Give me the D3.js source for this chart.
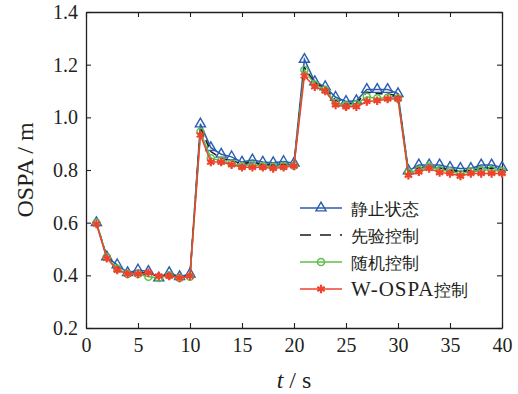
<!DOCTYPE html>
<html><head><meta charset="utf-8">
<script src="https://cdn.jsdelivr.net/npm/d3@7"></script>
<style>html,body{margin:0;padding:0;background:#fff;}svg{display:block;}</style>
</head><body>
<svg id="c" width="518" height="394"></svg>
<script>
const times = d3.range(1, 41);
const staticVals = [0.60,0.47,0.44,0.41,0.42,0.415,0.39,0.41,0.395,0.405, 0.975,0.885,0.86,0.85,0.83,0.838,0.83,0.828,0.832,0.826, 1.22,1.135,1.116,1.076,1.06,1.063,1.106,1.106,1.106,1.09, 0.797,0.819,0.819,0.819,0.81,0.806,0.806,0.819,0.819,0.81];
const priorVals = [0.60,0.47,0.43,0.41,0.41,0.41,0.395,0.405,0.39,0.40, 0.96,0.87,0.845,0.835,0.825,0.828,0.822,0.82,0.822,0.82, 1.19,1.13,1.11,1.065,1.05,1.055,1.095,1.09,1.09,1.08, 0.79,0.808,0.812,0.808,0.80,0.795,0.798,0.805,0.808,0.80];
const randomVals = [0.60,0.47,0.425,0.405,0.405,0.395,0.39,0.40,0.39,0.395, 0.945,0.845,0.835,0.825,0.815,0.82,0.815,0.812,0.815,0.816, 1.18,1.125,1.105,1.055,1.045,1.05,1.078,1.072,1.075,1.072, 0.79,0.80,0.813,0.80,0.795,0.785,0.795,0.80,0.80,0.795];
const wospaVals = [0.595,0.465,0.42,0.405,0.405,0.41,0.397,0.397,0.39,0.397, 0.933,0.83,0.83,0.82,0.81,0.81,0.81,0.806,0.81,0.815, 1.157,1.116,1.10,1.047,1.04,1.04,1.06,1.063,1.07,1.07, 0.78,0.793,0.806,0.79,0.787,0.777,0.787,0.787,0.787,0.787];
const seriesNames = ["静止状态", "先验控制", "随机控制", "W-OSPA控制"];
const xTicks = [0,5,10,15,20,25,30,35,40];
const yTicks = [0.2,0.4,0.6,0.8,1.0,1.2,1.4];

const svg = d3.select("#c");
const L = 86, R = 502, T = 12, B = 328;
const x = d3.scaleLinear().domain([0,40]).range([L,R]);
const y = d3.scaleLinear().domain([0.2,1.4]).range([B,T]);
const serif = '"Times New Roman"';
const ink = "#231f20";

const tl = 5;
const axB = svg.append("g").attr("transform",`translate(0,${B})`)
  .call(d3.axisBottom(x).tickValues(xTicks).tickSizeInner(-tl).tickSizeOuter(0).tickPadding(10).tickFormat(d3.format("d")));
const axT = svg.append("g").attr("transform",`translate(0,${T})`)
  .call(d3.axisTop(x).tickValues(xTicks).tickSizeInner(-tl).tickSizeOuter(0).tickFormat(""));
const axL = svg.append("g").attr("transform",`translate(${L},0)`)
  .call(d3.axisLeft(y).tickValues(yTicks).tickSizeInner(-tl).tickSizeOuter(0).tickPadding(8).tickFormat(d3.format(".1f")));
const axR = svg.append("g").attr("transform",`translate(${R},0)`)
  .call(d3.axisRight(y).tickValues(yTicks).tickSizeInner(-tl).tickSizeOuter(0).tickFormat(""));
[axB,axT,axL,axR].forEach(a=>{
  a.attr("font-family",null);
  a.selectAll(".domain").attr("stroke",ink).attr("stroke-width",1.3);
  a.selectAll(".tick line").attr("stroke",ink).attr("stroke-width",1.1);
  a.selectAll("text").style("font-family",serif).attr("font-size",20).attr("fill",ink);
});

svg.append("text").attr("x",294).attr("y",388).attr("text-anchor","middle")
  .style("font-family",serif).attr("font-size",24).attr("fill",ink)
  .html('<tspan font-style="italic">t</tspan> / s');
svg.append("text").attr("transform",`translate(33,${(T+B)/2}) rotate(-90)`).attr("text-anchor","middle")
  .style("font-family",serif).attr("font-size",24).attr("fill",ink).text("OSPA / m");

const series = [
  {name:seriesNames[0], vals:staticVals, color:"#2b5cb0", dash:null, marker:"tri"},
  {name:seriesNames[1], vals:priorVals, color:"#1a1a1a", dash:"7,5", marker:null},
  {name:seriesNames[2], vals:randomVals, color:"#5cbf4a", dash:null, marker:"circ"},
  {name:seriesNames[3], vals:wospaVals, color:"#f0412c", dash:null, marker:"star"}
];

const line = d3.line().x((d,i)=>x(times[i])).y(d=>y(d));
const sym = {
  tri: d3.symbol().type(d3.symbolTriangle).size(44),
  circ: d3.symbol().type(d3.symbolCircle).size(40),
  star: d3.symbol().type(d3.symbolAsterisk).size(50)
};
function drawMarker(g, s, cx, cy){
  if(!s.marker) return;
  const p = g.append("path").attr("d", sym[s.marker]()).attr("transform",`translate(${cx},${cy})`);
  if(s.marker==="star") p.attr("fill","none").attr("stroke",s.color).attr("stroke-width",2.2);
  else p.attr("fill","none").attr("stroke",s.color).attr("stroke-width",1.4);
}

series.forEach(s=>{
  const g = svg.append("g");
  g.append("path").datum(s.vals).attr("d",line).attr("fill","none")
    .attr("stroke",s.color).attr("stroke-width",1.5).attr("stroke-dasharray",s.dash);
  s.vals.forEach((v,i)=>drawMarker(g,s,x(times[i]),y(v)));
});

const lg = svg.append("g");
series.forEach((s,i)=>{
  const yy = 208 + i*27;
  lg.append("line").attr("x1",300).attr("x2",342).attr("y1",yy).attr("y2",yy)
    .attr("stroke",s.color).attr("stroke-width",1.5).attr("stroke-dasharray",s.dash ? "11,9" : null);
  drawMarker(lg,s,321,yy);
  const t = lg.append("text").attr("x",351).attr("y",yy+7).style("font-family",serif)
    .attr("font-size",17).attr("fill",ink);
  const m = s.name.match(/^([A-Za-z\-]*)(.*)$/);
  if (m[1]) t.append("tspan").attr("font-size",21).attr("letter-spacing",1).text(m[1]);
  t.append("tspan").text(m[2]);
});
</script>
</body></html>
